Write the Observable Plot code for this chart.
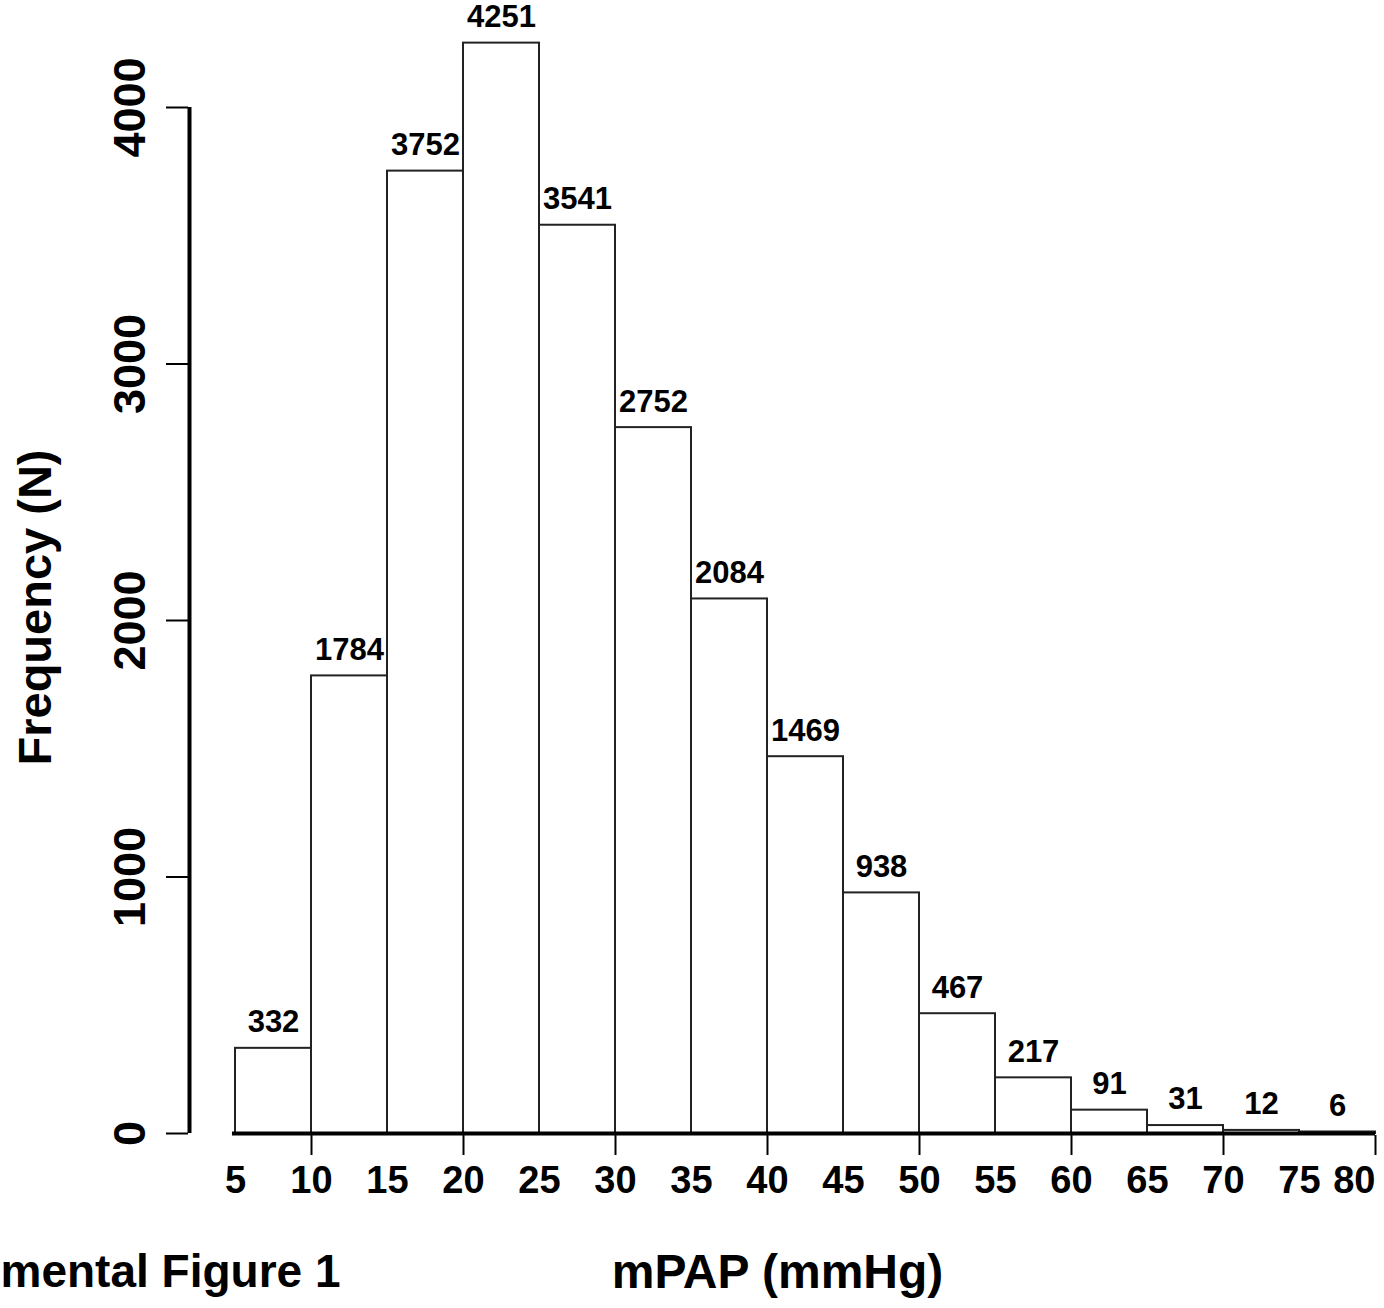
<!DOCTYPE html>
<html>
<head>
<meta charset="utf-8">
<script src="https://cdn.jsdelivr.net/npm/d3@7"></script>
<script src="https://cdn.jsdelivr.net/npm/@observablehq/plot@0.6"></script>
<style>
  html, body { margin: 0; padding: 0; background: #fff; }
  svg { font-family: "Liberation Sans", Arial, sans-serif; }
</style>
</head>
<body>
<div id="chart"></div>
<script>
const binStarts = [5, 10, 15, 20, 25, 30, 35, 40, 45, 50, 55, 60, 65, 70, 75];
const binWidth = 5;
const counts = [332, 1784, 3752, 4251, 3541, 2752, 2084, 1469, 938, 467, 217, 91, 31, 12, 6];
const yTicks = [0, 1000, 2000, 3000, 4000];
const xTickMarks = [10, 20, 30, 40, 50, 60, 70, 80];
const xTickLabels = [5, 10, 15, 20, 25, 30, 35, 40, 45, 50, 55, 60, 65, 70, 75, 80];
const xTitle = "mPAP (mmHg)";
const yTitle = "Frequency (N)";
const caption = "Supplemental Figure 1";

const bins = binStarts.map((s, i) => ({x1: s, x2: s + binWidth, n: counts[i]}));
const xMax = 80;

const chart = Plot.plot({
  width: 1384,
  height: 1308,
  marginLeft: 235,
  marginRight: 9,
  marginTop: 107,
  marginBottom: 175,
  style: {fontFamily: '"Liberation Sans", Arial, sans-serif', background: "#fff"},
  x: {domain: [5, xMax], axis: null},
  y: {domain: [0, 4000], axis: null},
  marks: [
    Plot.rectY(bins, {x1: "x1", x2: "x2", y: "n", fill: "white", stroke: "#222", strokeWidth: 2}),
    Plot.text(bins, {x: d => (d.x1 + d.x2) / 2, y: "n", text: d => String(d.n), dy: -26,
      fontSize: 31, fontWeight: "bold", fill: "black", lineAnchor: "middle", textAnchor: "middle"}),
    // x baseline
    Plot.ruleY([0], {x1: 4.8, x2: xMax, stroke: "black", strokeWidth: 4}),
    // x ticks
    Plot.axisX({ticks: xTickMarks, tickSize: 20, tickFormat: () => "", label: null, strokeWidth: 2, dy: 2}),
    // x tick labels (last one kept inside the frame)
    Plot.text(xTickLabels, {x: d => d, text: d => String(d), frameAnchor: "bottom", dy: 47,
      dx: 0, fontSize: 38, fontWeight: "bold", fill: "black", lineAnchor: "middle", textAnchor: "middle",
      filter: d => d < xMax}),
    Plot.text(xTickLabels, {x: d => d, text: d => String(d), frameAnchor: "bottom", dy: 47,
      fontSize: 38, fontWeight: "bold", fill: "black", lineAnchor: "middle", textAnchor: "end", dx: 0,
      filter: d => d === xMax}),
    // y axis line
    Plot.ruleX([5], {y1: 0, y2: 4000, dx: -46, stroke: "black", strokeWidth: 4}),
    // y ticks
    Plot.axisY({ticks: yTicks, tickSize: 22, tickFormat: () => "", label: null, dx: -47, strokeWidth: 2}),
    // y tick labels
    Plot.text(yTicks, {y: d => d, text: d => String(d), frameAnchor: "left", dx: -105, rotate: -90,
      fontSize: 45, fontWeight: "bold", fill: "black", lineAnchor: "middle", textAnchor: "middle"}),
    // titles
    Plot.text([yTitle], {frameAnchor: "left", dx: -200, dy: -13, rotate: -90, text: d => d,
      fontSize: 47, fontWeight: "bold", fill: "black", lineAnchor: "middle", textAnchor: "middle"}),
    Plot.text([xTitle], {frameAnchor: "bottom", dx: -28, dy: 139, text: d => d,
      fontSize: 48, fontWeight: "bold", fill: "black", lineAnchor: "middle", textAnchor: "middle"}),
    Plot.text([caption], {frameAnchor: "bottom-left", dx: 105, dy: 139, text: d => d, textAnchor: "end",
      fontSize: 46, fontWeight: "bold", fill: "black", lineAnchor: "middle"})
  ]
});
document.getElementById("chart").appendChild(chart);
</script>
</body>
</html>
